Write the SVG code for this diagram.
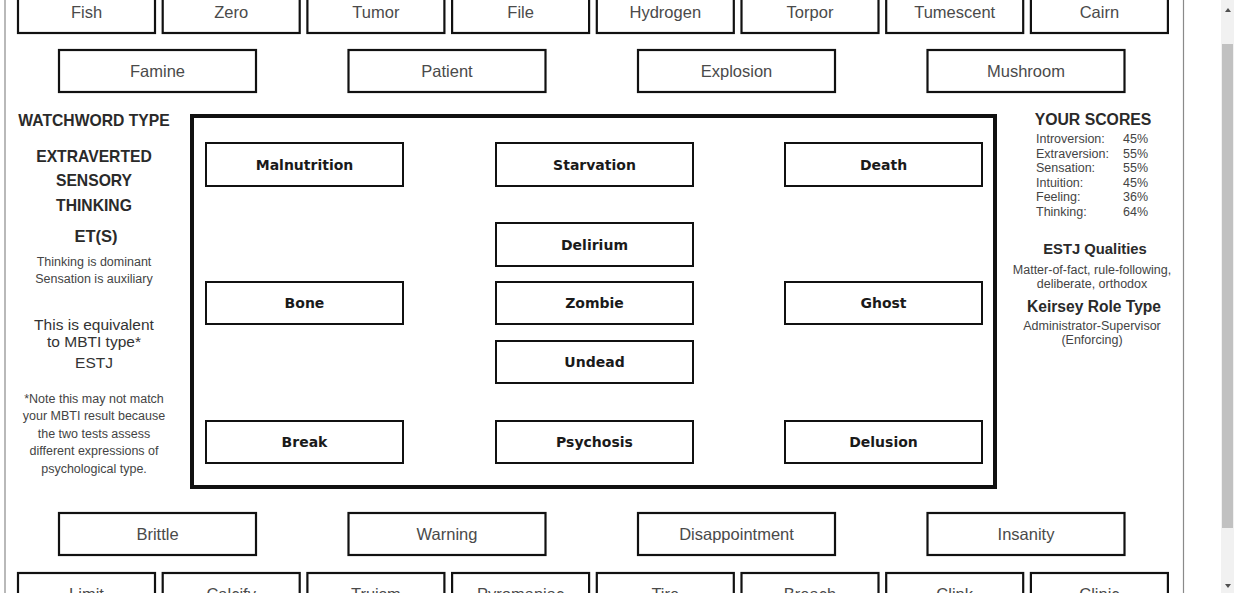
<svg xmlns="http://www.w3.org/2000/svg" width="1234" height="593" viewBox="0 0 1234 593">
<style>
.ob{fill:#fff;stroke:#111;stroke-width:2.2}
.ib{fill:#fff;stroke:#111;stroke-width:2}
.ot{font-family:"Liberation Sans",Arial,sans-serif;font-size:16.5px;fill:#4a4a4a;text-anchor:middle}
.it{font-family:"DejaVu Sans",Verdana,sans-serif;font-weight:bold;font-size:14px;fill:#1a1a1a;text-anchor:middle}
.hd{font-family:"Liberation Sans",Arial,sans-serif;font-weight:bold;fill:#2a2a2a;text-anchor:middle}
.sm{font-family:"Liberation Sans",Arial,sans-serif;font-size:12.5px;fill:#444;text-anchor:middle}
.md{font-family:"Liberation Sans",Arial,sans-serif;font-size:15.5px;fill:#333;text-anchor:middle}
.sc{font-family:"Liberation Sans",Arial,sans-serif;font-size:12.5px;fill:#444}
</style>
<rect width="1234" height="593" fill="#fff"/>
<line x1="5" y1="0" x2="5" y2="593" stroke="#8a8a8a" stroke-width="1.2"/>
<line x1="1183.5" y1="0" x2="1183.5" y2="593" stroke="#8a8a8a" stroke-width="1.2"/>
<rect x="1221" y="0" width="13" height="593" fill="#f1f1f1"/>
<rect x="1222" y="44" width="11" height="484" fill="#c1c1c1"/>
<polygon points="1225,12 1231,12 1228,8" fill="#505050"/>
<polygon points="1225,584 1231,584 1228,588" fill="#505050"/>

<g id="row-top">
<g id="n-fish"><rect class="ob" x="18" y="-9" width="137" height="42"/><text class="ot" x="86.5" y="18">Fish</text></g>
<g id="n-zero"><rect class="ob" x="162.7" y="-9" width="137" height="42"/><text class="ot" x="231.2" y="18">Zero</text></g>
<g id="n-tumor"><rect class="ob" x="307.4" y="-9" width="137" height="42"/><text class="ot" x="375.9" y="18">Tumor</text></g>
<g id="n-file"><rect class="ob" x="452.1" y="-9" width="137" height="42"/><text class="ot" x="520.6" y="18">File</text></g>
<g id="n-hydrogen"><rect class="ob" x="596.8" y="-9" width="137" height="42"/><text class="ot" x="665.3" y="18">Hydrogen</text></g>
<g id="n-torpor"><rect class="ob" x="741.5" y="-9" width="137" height="42"/><text class="ot" x="810" y="18">Torpor</text></g>
<g id="n-tumescent"><rect class="ob" x="886.2" y="-9" width="137" height="42"/><text class="ot" x="954.7" y="18">Tumescent</text></g>
<g id="n-cairn"><rect class="ob" x="1030.9" y="-9" width="137" height="42"/><text class="ot" x="1099.4" y="18">Cairn</text></g>
</g>

<g id="row-2">
<g id="n-famine"><rect class="ob" x="59" y="50" width="197" height="42"/><text class="ot" x="157.5" y="77">Famine</text></g>
<g id="n-patient"><rect class="ob" x="348.5" y="50" width="197" height="42"/><text class="ot" x="447" y="77">Patient</text></g>
<g id="n-explosion"><rect class="ob" x="638" y="50" width="197" height="42"/><text class="ot" x="736.5" y="77">Explosion</text></g>
<g id="n-mushroom"><rect class="ob" x="927.5" y="50" width="197" height="42"/><text class="ot" x="1026" y="77">Mushroom</text></g>
</g>

<g id="frame"><rect x="192" y="116" width="803" height="371" fill="none" stroke="#111" stroke-width="4"/></g>

<g id="inner">
<g id="n-malnutrition"><rect class="ib" x="206" y="143" width="197" height="43"/><text class="it" x="304.5" y="169.5">Malnutrition</text></g>
<g id="n-starvation"><rect class="ib" x="496" y="143" width="197" height="43"/><text class="it" x="594.5" y="169.5">Starvation</text></g>
<g id="n-death"><rect class="ib" x="785" y="143" width="197" height="43"/><text class="it" x="883.5" y="169.5">Death</text></g>
<g id="n-delirium"><rect class="ib" x="496" y="223" width="197" height="43"/><text class="it" x="594.5" y="249.5">Delirium</text></g>
<g id="n-bone"><rect class="ib" x="206" y="282" width="197" height="42"/><text class="it" x="304.5" y="308">Bone</text></g>
<g id="n-zombie"><rect class="ib" x="496" y="282" width="197" height="42"/><text class="it" x="594.5" y="308">Zombie</text></g>
<g id="n-ghost"><rect class="ib" x="785" y="282" width="197" height="42"/><text class="it" x="883.5" y="308">Ghost</text></g>
<g id="n-undead"><rect class="ib" x="496" y="341" width="197" height="42"/><text class="it" x="594.5" y="367">Undead</text></g>
<g id="n-break"><rect class="ib" x="206" y="421" width="197" height="42"/><text class="it" x="304.5" y="447">Break</text></g>
<g id="n-psychosis"><rect class="ib" x="496" y="421" width="197" height="42"/><text class="it" x="594.5" y="447">Psychosis</text></g>
<g id="n-delusion"><rect class="ib" x="785" y="421" width="197" height="42"/><text class="it" x="883.5" y="447">Delusion</text></g>
</g>

<g id="row-3">
<g id="n-brittle"><rect class="ob" x="59" y="513" width="197" height="42"/><text class="ot" x="157.5" y="540">Brittle</text></g>
<g id="n-warning"><rect class="ob" x="348.5" y="513" width="197" height="42"/><text class="ot" x="447" y="540">Warning</text></g>
<g id="n-disappointment"><rect class="ob" x="638" y="513" width="197" height="42"/><text class="ot" x="736.5" y="540">Disappointment</text></g>
<g id="n-insanity"><rect class="ob" x="927.5" y="513" width="197" height="42"/><text class="ot" x="1026" y="540">Insanity</text></g>
</g>

<g id="row-bottom">
<g id="n-limit"><rect class="ob" x="18" y="573" width="137" height="42"/><text class="ot" x="86.5" y="600">Limit</text></g>
<g id="n-calcify"><rect class="ob" x="162.7" y="573" width="137" height="42"/><text class="ot" x="231.2" y="600">Calcify</text></g>
<g id="n-truism"><rect class="ob" x="307.4" y="573" width="137" height="42"/><text class="ot" x="375.9" y="600">Truism</text></g>
<g id="n-pyromaniac"><rect class="ob" x="452.1" y="573" width="137" height="42"/><text class="ot" x="520.6" y="600">Pyromaniac</text></g>
<g id="n-tire"><rect class="ob" x="596.8" y="573" width="137" height="42"/><text class="ot" x="665.3" y="600">Tire</text></g>
<g id="n-breach"><rect class="ob" x="741.5" y="573" width="137" height="42"/><text class="ot" x="810" y="600">Breach</text></g>
<g id="n-clink"><rect class="ob" x="886.2" y="573" width="137" height="42"/><text class="ot" x="954.7" y="600">Clink</text></g>
<g id="n-clinic"><rect class="ob" x="1030.9" y="573" width="137" height="42"/><text class="ot" x="1099.4" y="600">Clinic</text></g>
</g>

<g id="left-panel">
<text class="hd" x="94" y="126" font-size="15.7px">WATCHWORD TYPE</text>
<text class="hd" x="94" y="162" font-size="15.7px">EXTRAVERTED</text>
<text class="hd" x="94" y="186" font-size="15.7px">SENSORY</text>
<text class="hd" x="94" y="211" font-size="15.7px">THINKING</text>
<text class="hd" x="96" y="242" font-size="16.5px">ET(S)</text>
<text class="sm" x="94" y="266">Thinking is dominant</text>
<text class="sm" x="94" y="283">Sensation is auxiliary</text>
<text class="md" x="94" y="330">This is equivalent</text>
<text class="md" x="94" y="347">to MBTI type*</text>
<text class="md" x="94" y="368">ESTJ</text>
<text class="sm" x="94" y="403">*Note this may not match</text>
<text class="sm" x="94" y="420">your MBTI result because</text>
<text class="sm" x="94" y="438">the two tests assess</text>
<text class="sm" x="94" y="455">different expressions of</text>
<text class="sm" x="94" y="473">psychological type.</text>
</g>

<g id="right-panel">
<text class="hd" x="1093" y="125" font-size="15.8px">YOUR SCORES</text>
<text class="sc" x="1036" y="143">Introversion:</text><text class="sc" x="1123" y="143">45%</text>
<text class="sc" x="1036" y="157.5">Extraversion:</text><text class="sc" x="1123" y="157.5">55%</text>
<text class="sc" x="1036" y="172">Sensation:</text><text class="sc" x="1123" y="172">55%</text>
<text class="sc" x="1036" y="186.5">Intuition:</text><text class="sc" x="1123" y="186.5">45%</text>
<text class="sc" x="1036" y="201">Feeling:</text><text class="sc" x="1123" y="201">36%</text>
<text class="sc" x="1036" y="215.5">Thinking:</text><text class="sc" x="1123" y="215.5">64%</text>
<text class="hd" x="1095" y="254" font-size="14.8px">ESTJ Qualities</text>
<text class="sm" x="1092" y="274">Matter-of-fact, rule-following,</text>
<text class="sm" x="1092" y="288">deliberate, orthodox</text>
<text class="hd" x="1094" y="312" font-size="15.6px">Keirsey Role Type</text>
<text class="sm" x="1092" y="330">Administrator-Supervisor</text>
<text class="sm" x="1092" y="344">(Enforcing)</text>
</g>
</svg>
